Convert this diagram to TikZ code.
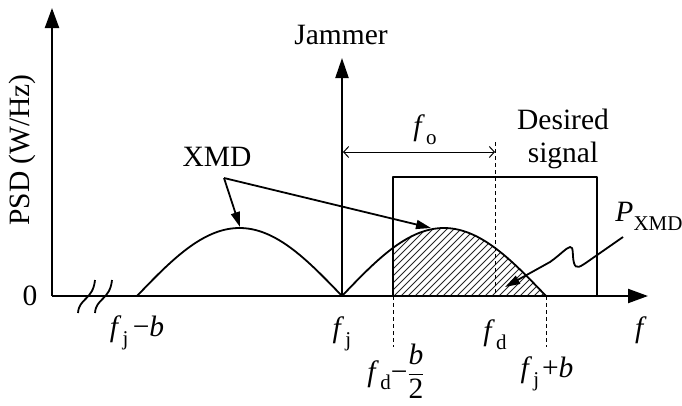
\documentclass[tikz,border=0pt]{standalone}
\usepackage{amsmath}
\usepackage{fontspec}
\setmainfont{Liberation Serif}[ItalicFont={Liberation Serif Italic}]
\usetikzlibrary{arrows.meta}
\newcommand\sbs[1]{\raisebox{-0.3em}{\fontsize{21}{21}\selectfont #1}}
\newcommand\fv[1]{\textit{f}\kern0.04em\sbs{#1}}
\tikzset{
  main/.style={line width=1.8pt},
  axisline/.style={line width=2.2pt,-{Triangle[length=20pt,width=14pt]}},
  callout/.style={line width=1.8pt,-{Triangle[length=15pt,width=9pt]}},
  guide/.style={line width=1pt,dash pattern=on 4pt off 3pt},
  lbl/.style={inner sep=0pt},
}
\begin{document}
\begin{tikzpicture}[x=1pt,y=-1pt,font=\fontsize{29.5}{33}\selectfont,line join=round]
\useasboundingbox (0,0) rectangle (682,405);
% hatching
\begin{scope}
\clip (393,296) -- plot[domain=393:546,samples=60] (\x,{296-68*sin((\x-342)/204*180)}) -- cycle;
\foreach \i in {-160,-153,...,160} \draw[line width=0.9pt,black!85] (393+\i,296) -- ++(170,-170);
\end{scope}
% lobes
\draw[main] plot[domain=137:342,samples=80] (\x,{296-68*sin((\x-137)/205*180)});
\draw[main] plot[domain=342:546,samples=80] (\x,{296-68*sin((\x-342)/204*180)});
% desired signal rectangle
\draw[main] (393,296) |- (597,177) -- (597,296);
% guides
\draw[guide] (495,142) -- (495,296);
\draw[guide] (393,296) -- (393,347);
\draw[guide] (546,296) -- (546,347);
% axes
\draw[axisline] (52,296) -- (52,8);
\draw[axisline] (52,296) -- (648,296);
\draw[line width=2.2pt,-{Triangle[length=20pt,width=13pt]}] (342,296) -- (342,58);
% axis break
\draw[main] (78,313) .. controls (79,298) and (93,300) .. (95,280);
\draw[main] (95,313) .. controls (96,298) and (110,300) .. (112,280);
% offset arrow
\draw[line width=1pt,{Straight Barb[length=5pt,width=11pt]}-{Straight Barb[length=5pt,width=11pt]}] (343,152) -- (495,152);
% labels
\node[lbl] (jam) at (341,35) {Jammer};
\node[lbl] (xmd) at (217,157) {XMD};
\node[lbl] (fo) at (425,130) {\fv{o}};
\node[lbl,align=center] (des) at (563,139) {Desired\\signal};
\node[lbl] (pxmd) at (649,216) {\textit{P}\sbs{XMD}};
\node[lbl] (zero) at (30,296) {0};
\node[lbl,rotate=90] (psd) at (22,150) {PSD (W/Hz)};
\node[lbl] (lfjb) at (137,333) {\fv{j}\kern0.15em−\textit{b}};
\node[lbl] (lfj) at (342,334) {\fv{j}};
\node[lbl] (lfd) at (495,335) {\fv{d}};
\node[lbl] (lf) at (641,330) {\textit{f}};
\node[lbl] (lfdb) at (396,371) {\fv{d}−$\dfrac{\text{\itshape b}}{\text{2}}$};
\node[lbl] (lfjpb) at (547,374) {\fv{j}\kern0.1em+\textit{b}};
% callouts
\coordinate (xo) at (224,178);
\coordinate (lpk) at (240,227);
\coordinate (rpk) at (431,228);
\draw[callout] (xo) -- (lpk);
\draw[callout] (xo) -- (rpk);
\coordinate (ps) at (623,237);
\coordinate (pt) at (505,287);
\draw[callout] (ps) -- (590,260) .. controls (580,267) and (576,270) .. (574,263) .. controls (572,256) and (574,246) .. (570,247) .. controls (566,248) and (560,255) .. (550,262) -- (pt);
\end{tikzpicture}
\end{document}
